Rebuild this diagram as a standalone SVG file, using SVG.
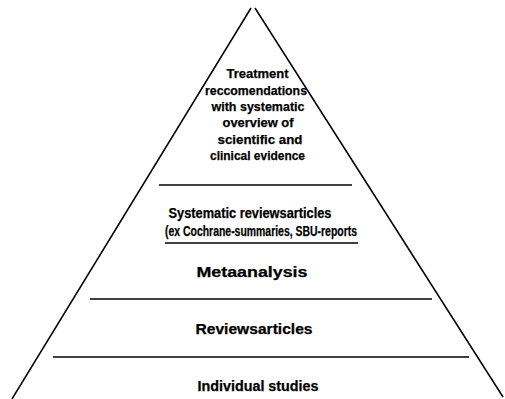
<svg xmlns="http://www.w3.org/2000/svg" width="505" height="399" viewBox="0 0 505 399">
<style>
.l{stroke:#000;stroke-width:1.5;fill:none}
.t{font-family:"Liberation Sans",Arial,sans-serif;font-weight:bold;fill:#000;stroke:#000;stroke-width:0.25;text-anchor:middle;font-size:13.5px}
.m{font-size:14px}
</style>
<rect width="505" height="399" fill="#fff"/>
<g id="pyramid">
<line class="l" x1="251" y1="8" x2="12" y2="399"/>
<line class="l" x1="255" y1="8" x2="503" y2="397"/>
</g>
<g id="dividers">
<line class="l" x1="159" y1="185" x2="352" y2="185"/>
<line class="l" x1="165" y1="243" x2="358" y2="243"/>
<line class="l" x1="90" y1="299" x2="432" y2="299"/>
<line class="l" x1="53" y1="357" x2="469" y2="357"/>
</g>
<g id="top">
<text class="t" x="257.5" y="78" textLength="62" lengthAdjust="spacingAndGlyphs">Treatment</text>
<text class="t" x="256" y="95" textLength="102" lengthAdjust="spacingAndGlyphs">reccomendations</text>
<text class="t" x="258" y="111" textLength="93" lengthAdjust="spacingAndGlyphs">with systematic</text>
<text class="t" x="258" y="127" textLength="71" lengthAdjust="spacingAndGlyphs">overview  of</text>
<text class="t" x="260" y="144" textLength="85" lengthAdjust="spacingAndGlyphs">scientific and</text>
<text class="t" x="257.5" y="160" textLength="95" lengthAdjust="spacingAndGlyphs">clinical evidence</text>
</g>
<g id="systematic">
<text class="t m" x="250" y="218" textLength="163" lengthAdjust="spacingAndGlyphs">Systematic reviewsarticles</text>
<text class="t m" x="261" y="236" textLength="192" lengthAdjust="spacingAndGlyphs">(ex Cochrane-summaries, SBU-reports</text>
</g>
<g id="meta">
<text class="t m" x="252" y="277" textLength="111" lengthAdjust="spacingAndGlyphs">Metaanalysis</text>
</g>
<g id="reviews">
<text class="t m" x="254" y="334" textLength="117" lengthAdjust="spacingAndGlyphs">Reviewsarticles</text>
</g>
<g id="individual">
<text class="t m" x="258" y="391" textLength="121" lengthAdjust="spacingAndGlyphs">Individual studies</text>
</g>
</svg>
